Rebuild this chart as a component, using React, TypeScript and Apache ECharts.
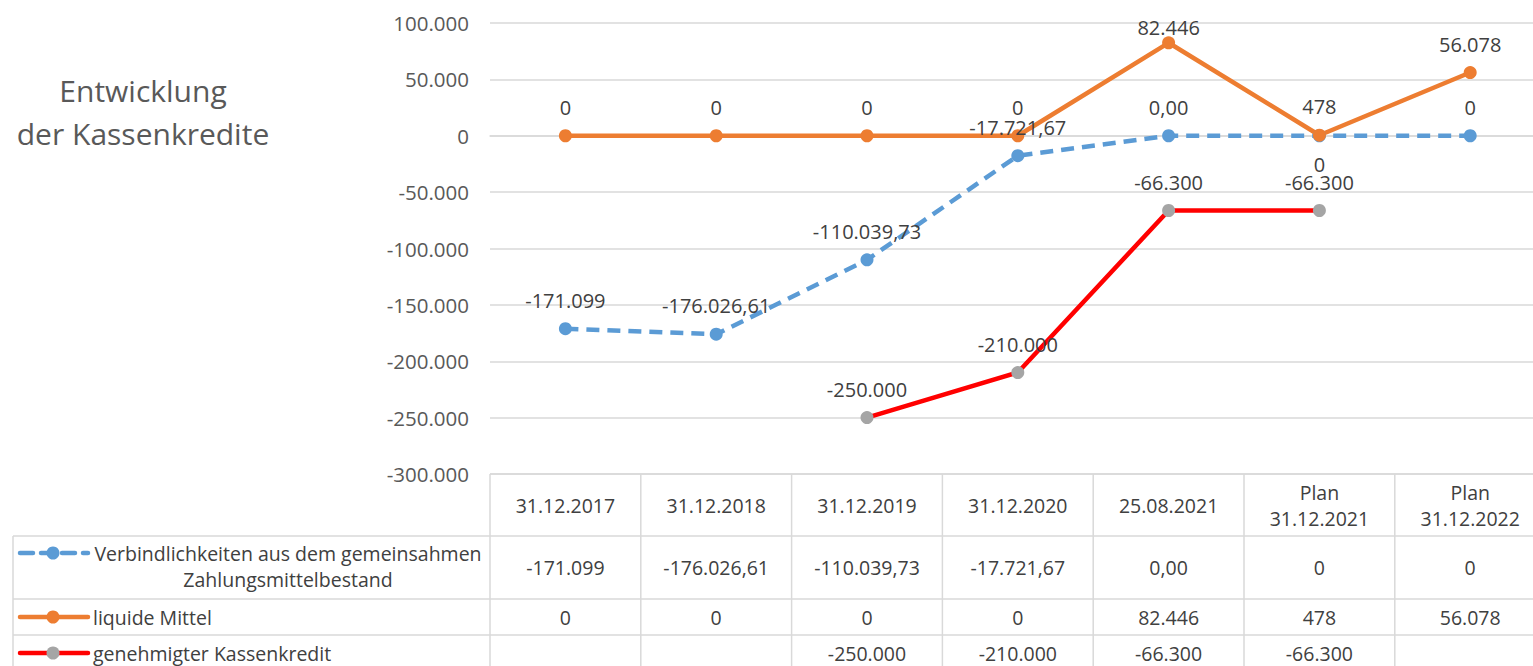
import React, { useEffect, useRef } from "react";
import * as echarts from "echarts";

const categories = [
  "31.12.2017",
  "31.12.2018",
  "31.12.2019",
  "31.12.2020",
  "25.08.2021",
  "Plan\n31.12.2021",
  "Plan\n31.12.2022",
];
const seriesNames = [
  "Verbindlichkeiten aus dem gemeinsahmen\nZahlungsmittelbestand",
  "liquide Mittel",
  "genehmigter Kassenkredit",
];
const verbindlichkeiten = [-171099, -176026.61, -110039.73, -17721.67, 0, 0, 0];
const verbDecimals = [0, 2, 2, 2, 2, 0, 0];
const liquideMittel = [0, 0, 0, 0, 82446, 478, 56078];
const kassenkredit: (number | null)[] = [null, null, -250000, -210000, -66300, -66300, null];
const yMin = -300000;
const yMax = 100000;
const yInterval = 50000;
const titleLines = ["Entwicklung", "der Kassenkredite"];

const FONT = "'Open Sans', sans-serif";
const BLUE = "#5B9BD5";
const ORANGE = "#ED7D31";
const RED = "#FF0000";
const GRAY = "#A5A5A5";
const TXT = "#404040";
const AX = "#595959";
const LINE = "#D9D9D9";

function formatDE(v: number, dec: number): string {
  const neg = v < 0;
  const s = Math.abs(v).toFixed(dec);
  const [ip, dp] = s.split(".");
  let out = "";
  for (let i = 0; i < ip.length; i++) {
    if (i > 0 && (ip.length - i) % 3 === 0) out += ".";
    out += ip[i];
  }
  if (dp) out += "," + dp;
  return (neg ? "-" : "") + out;
}

export default function App() {
  const ref = useRef<HTMLDivElement>(null);
  useEffect(() => {
    if (!ref.current) return;
    const chart = echarts.init(ref.current, null, { renderer: "svg" });
    const labelBase = {
      show: true,
      color: TXT,
      fontSize: 20,
      fontFamily: FONT,
    };
    const gridLeft = 490;
    const gridTop = 23;
    const gridW = 1055.6;
    const gridH = 451;
    const option: any = {
      animation: false,
      textStyle: { fontFamily: FONT },
      grid: { left: gridLeft, top: gridTop, width: gridW, height: gridH },
      xAxis: {
        type: "category",
        data: categories,
        boundaryGap: true,
        axisLine: { show: true, lineStyle: { color: LINE, width: 1.5 } },
        axisTick: { show: false },
        axisLabel: { show: false },
        splitLine: { show: false },
      },
      yAxis: {
        type: "value",
        min: yMin,
        max: yMax,
        interval: yInterval,
        axisLine: { show: false },
        axisTick: { show: false },
        axisLabel: {
          color: AX,
          fontSize: 20.5,
          fontFamily: FONT,
          margin: 21,
          formatter: (v: number) => formatDE(v, 0),
        },
        splitLine: { lineStyle: { color: LINE, width: 1.5 } },
      },
      series: [
        {
          name: seriesNames[0],
          type: "line",
          data: verbindlichkeiten.map((v, i) => ({
            value: v,
            label: {
              position: i === 5 ? "bottom" : "top",
              distance: 12,
              formatter: () => formatDE(v, verbDecimals[i]),
            },
          })),
          symbol: "circle",
          symbolSize: 13,
          lineStyle: { color: BLUE, width: 4.5, type: [13, 8] },
          itemStyle: { color: BLUE },
          label: { ...labelBase },
        },
        {
          name: seriesNames[1],
          type: "line",
          data: liquideMittel.map((v, i) => ({
            value: v,
            label: {
              position: "top",
              distance: i === 4 ? -1 : 12,
              formatter: () => formatDE(v, 0),
            },
          })),
          symbol: "circle",
          symbolSize: 13,
          lineStyle: { color: ORANGE, width: 4.5 },
          itemStyle: { color: ORANGE },
          label: { ...labelBase },
        },
        {
          name: seriesNames[2],
          type: "line",
          data: kassenkredit.map((v) => ({
            value: v,
            label: {
              position: "top",
              distance: 12,
              formatter: () => (v == null ? "" : formatDE(v, 0)),
            },
          })),
          symbol: "circle",
          symbolSize: 13,
          connectNulls: false,
          lineStyle: { color: RED, width: 4.5 },
          itemStyle: { color: GRAY },
          label: { ...labelBase },
        },
      ],
    };
    chart.setOption(option);

    // Table geometry derived from the category axis
    const cx = categories.map((_, i) => chart.convertToPixel({ xAxisIndex: 0 }, i) as number);
    const colW = cx[1] - cx[0];
    const tableLeft = 13;
    const plotLeft = cx[0] - colW / 2;
    const rightEdge = cx[cx.length - 1] + colW / 2;
    const headerTop = chart.convertToPixel({ yAxisIndex: 0 }, yMin) as number;
    const rowTops = [headerTop, 536, 599, 635, 671];

    const g: any[] = [];
    const ln = (x1: number, y1: number, x2: number, y2: number) =>
      g.push({
        type: "line",
        shape: { x1, y1, x2, y2 },
        style: { stroke: LINE, lineWidth: 1.5 },
        silent: true,
      });
    const txt = (
      text: string,
      x: number,
      y: number,
      size: number,
      color: string,
      align: string = "center"
    ) =>
      g.push({
        type: "text",
        x,
        y,
        silent: true,
        style: {
          text,
          fill: color,
          fontSize: size,
          fontFamily: FONT,
          align,
          textAlign: align,
          verticalAlign: "middle",
          textVerticalAlign: "middle",
          lineHeight: 26,
        },
      });

    // title
    txt(titleLines[0], 143, 90, 30, AX);
    txt(titleLines[1], 143, 133, 30, AX);

    // table lines
    ln(plotLeft, rowTops[0], rightEdge, rowTops[0]);
    for (let r = 1; r < rowTops.length; r++) ln(tableLeft, rowTops[r], rightEdge, rowTops[r]);
    ln(tableLeft, rowTops[1], tableLeft, rowTops[4]);
    for (let k = 0; k <= categories.length; k++) {
      const x = plotLeft + k * colW;
      ln(x, rowTops[0], x, rowTops[4]);
    }

    const TS = 19.5;
    // header
    categories.forEach((c, i) => {
      txt(c, cx[i], (rowTops[0] + rowTops[1]) / 2, TS, TXT);
    });
    // rows values
    const rowMid = [567, 617, 653];
    verbindlichkeiten.forEach((v, i) => txt(formatDE(v, verbDecimals[i]), cx[i], rowMid[0], TS, TXT));
    liquideMittel.forEach((v, i) => txt(formatDE(v, 0), cx[i], rowMid[1], TS, TXT));
    kassenkredit.forEach((v, i) => {
      if (v != null) txt(formatDE(v, 0), cx[i], rowMid[2], TS, TXT);
    });

    // legend keys
    const keyY = [553, 617, 653];
    g.push({
      type: "line",
      shape: { x1: 20, y1: keyY[0], x2: 88, y2: keyY[0] },
      style: { stroke: BLUE, lineWidth: 4.5, lineDash: [13, 8], lineCap: "round" },
      silent: true,
    });
    g.push({ type: "circle", shape: { cx: 53, cy: keyY[0], r: 6.5 }, style: { fill: BLUE }, silent: true });
    g.push({
      type: "line",
      shape: { x1: 20, y1: keyY[1], x2: 88, y2: keyY[1] },
      style: { stroke: ORANGE, lineWidth: 4.5, lineCap: "round" },
      silent: true,
    });
    g.push({ type: "circle", shape: { cx: 53, cy: keyY[1], r: 6.5 }, style: { fill: ORANGE }, silent: true });
    g.push({
      type: "line",
      shape: { x1: 20, y1: keyY[2], x2: 88, y2: keyY[2] },
      style: { stroke: RED, lineWidth: 4.5, lineCap: "round" },
      silent: true,
    });
    g.push({ type: "circle", shape: { cx: 53, cy: keyY[2], r: 6.5 }, style: { fill: GRAY }, silent: true });

    // legend names
    txt(seriesNames[0], 288, (keyY[0] + 580) / 2, TS, TXT);
    txt(seriesNames[1], 93, keyY[1], TS, TXT, "left");
    txt(seriesNames[2], 93, keyY[2], TS, TXT, "left");

    chart.setOption({ graphic: { elements: g } });

    return () => chart.dispose();
  }, []);
  return (
    <div
      ref={ref}
      style={{ position: "fixed", left: 0, top: 0, width: 1548, height: 666, background: "#fff" }}
    />
  );
}
